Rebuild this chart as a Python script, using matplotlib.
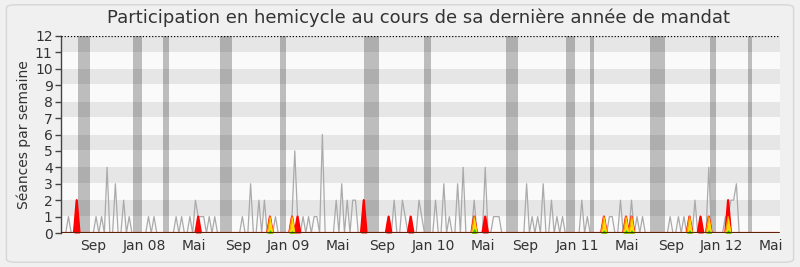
import numpy as np
import matplotlib
matplotlib.use("Agg")
import matplotlib.pyplot as plt
from matplotlib.patches import FancyBboxPatch

# Weekly number of sessions in the chamber (grey line), week 0 ~ early July 2007
seances = [
    0, 0, 1, 0, 0, 2, 0, 0, 0, 0, 0, 0, 1, 0, 1, 0, 4, 0, 0, 3,
    0, 0, 2, 0, 1, 0, 0, 0, 0, 0, 0, 1, 0, 1, 0, 0, 0, 0, 0, 0,
    0, 1, 0, 1, 0, 0, 1, 0, 2, 1, 1, 1, 0, 1, 0, 1, 0, 0, 0, 0,
    0, 0, 0, 0, 0, 1, 0, 0, 3, 0, 0, 2, 0, 2, 0, 1, 0, 1, 0, 0,
    0, 0, 0, 1, 5, 1, 0, 1, 0, 1, 0, 1, 1, 0, 6, 0, 0, 0, 0, 2,
    0, 3, 0, 2, 0, 2, 2, 0, 0, 2, 0, 0, 0, 0, 0, 0, 0, 0, 1, 0,
    2, 0, 0, 2, 1, 0, 1, 0, 0, 2, 1, 0, 0, 0, 0, 2, 0, 0, 3, 0,
    1, 0, 0, 3, 0, 4, 0, 0, 0, 2, 0, 0, 0, 4, 0, 0, 1, 1, 1, 0,
    0, 0, 0, 0, 0, 0, 0, 0, 3, 0, 1, 0, 1, 0, 3, 0, 0, 2, 0, 1,
    0, 1, 0, 0, 0, 0, 0, 0, 2, 0, 1, 0, 0, 0, 0, 0, 1, 0, 1, 1,
    0, 0, 2, 0, 1, 0, 2, 0, 1, 0, 1, 0, 0, 0, 0, 0, 0, 0, 0, 0,
    1, 0, 0, 1, 0, 1, 0, 1, 0, 2, 0, 1, 0, 0, 4, 0, 0, 0, 0, 0,
    1, 1, 2, 2, 3, 0, 0, 0, 0, 0, 0, 0, 0, 0, 0, 0, 0, 0, 0, 0,
]

# Presence of the deputy (red), interventions (orange/yellow), questions (green)
presence_weeks = [5, 49, 75, 83, 85, 109, 118, 126, 149, 153, 196, 204, 206, 227, 231, 234, 241]
presence_vals = [2, 1, 1, 1, 1, 2, 1, 1, 1, 1, 1, 1, 1, 1, 1, 1, 2]
interv_weeks = [75, 83, 149, 196, 204, 206, 227, 234, 241]
interv_vals = [1, 1, 1, 1, 1, 1, 1, 1, 1]
question_weeks = [75, 83, 149, 196, 204, 206, 227, 234, 241]
question_vals = [0.2, 0.15, 0.3, 0.2, 0.2, 0.2, 0.2, 0.2, 0.2]

# Parliamentary recess periods (week ranges)
vacances = [(5.4, 9.8), (25.4, 28.6), (36.2, 38.4), (56.9, 61.2), (78.6, 80.8),
            (109.1, 114.5), (130.8, 133.3), (160.5, 164.9), (182.2, 185.5),
            (190.9, 192.4), (212.7, 218.1), (234.4, 236.6), (248.2, 249.6)]

# Month labels and their week positions
mois_labels = ["Sep", "Jan 08", "Mai", "Sep", "Jan 09", "Mai", "Sep", "Jan 10",
               "Mai", "Sep", "Jan 11", "Mai", "Sep", "Jan 12", "Mai"]
mois_pos = [10.8, 29.6, 47.4, 63.4, 81.8, 99.6, 115.5, 134.1,
            152.1, 167.6, 186.3, 204.2, 220.2, 238.5, 256.5]

weeks = np.arange(len(seances))


def sparse_to_weekly(idx, vals):
    out = np.zeros(len(seances))
    out[idx] = vals
    return out


presence = sparse_to_weekly(presence_weeks, presence_vals)
interv = sparse_to_weekly(interv_weeks, interv_vals)
questions = sparse_to_weekly(question_weeks, question_vals)

plt.rcParams['font.family'] = 'DejaVu Sans'

fig = plt.figure(figsize=(8, 2.67), dpi=100, facecolor='#f0f0f0')
frame = FancyBboxPatch((0.008, 0.018), 0.984, 0.964, boxstyle="round,pad=0,rounding_size=0.012",
                       transform=fig.transFigure, facecolor='none', edgecolor='#d6d6d6', linewidth=1)
fig.patches.append(frame)

ax = fig.add_axes([0.07625, 0.1273, 0.89875, 0.7379])
ax.set_facecolor('#fafafa')

# recess bands, then darker alternate stripes on top
for a, b in vacances:
    ax.axvspan(a, b, color='#bdbdbd', lw=0, zorder=1)
for k in range(1, 12, 2):
    ax.axhspan(k + 0.05, k + 1, color='black', alpha=0.08, lw=0, zorder=2)

ax.plot(weeks, seances, color='#aaaaaa', lw=0.9, zorder=3)

# filled peaks; outlines drawn as lines so the zero baseline stays dark
ax.fill_between(weeks, presence, color='#ff0000', lw=0, zorder=4)
ax.plot(weeks, presence, color='#ff0000', lw=1.6, zorder=4)
ax.fill_between(weeks, interv, color='#ff9900', lw=0, zorder=5)
ax.plot(weeks, interv, color='#ff9900', lw=0.9, zorder=5)
ax.fill_between(weeks, interv, color='#ffdd00', lw=0, zorder=6)
ax.fill_between(weeks, questions, color='#22cc00', lw=0, zorder=7)

ax.axhline(12, color='black', lw=0.9, ls=(0, (1, 1.5)), zorder=8)
ax.axhline(0, color='#2a1010', lw=1.8, zorder=8)

ax.set_xlim(-0.7, 259.8)
ax.set_ylim(0, 12)
ax.set_yticks(range(0, 13))
ax.set_xticks(mois_pos)
ax.set_xticklabels(mois_labels)
ax.tick_params(axis='x', length=0, pad=4, labelsize=10, colors='#333333')
ax.tick_params(axis='y', length=4, width=1, color='#444444', pad=2, labelsize=10, labelcolor='#333333')

for s in ['top', 'right', 'bottom']:
    ax.spines[s].set_visible(False)
ax.spines['left'].set_color('#444444')
ax.spines['left'].set_linewidth(1)

ax.set_ylabel('Séances par semaine', fontsize=10, color='#333333', labelpad=3)

fig.text(0.523, 0.932, 'Participation en hemicycle au cours de sa dernière année de mandat',
         ha='center', va='center', fontsize=13, color='#333333')

fig.savefig('out.png', dpi=100, facecolor=fig.get_facecolor())
